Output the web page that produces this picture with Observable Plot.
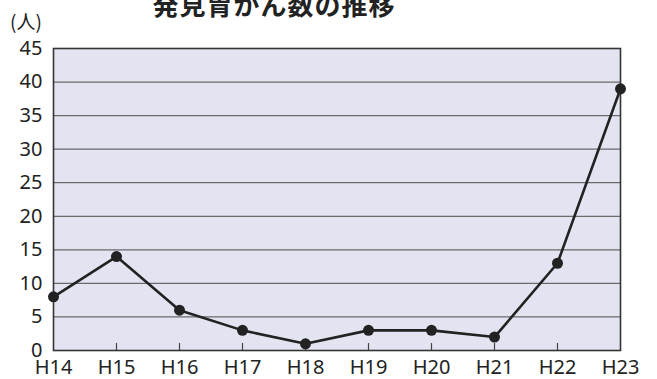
<!DOCTYPE html>
<html><head><meta charset="utf-8">
<script src="https://cdn.jsdelivr.net/npm/d3@7"></script>
<script src="https://cdn.jsdelivr.net/npm/@observablehq/plot@0.6"></script>
<style>
body{margin:0;background:#fff;}
#wrap{position:relative;width:657px;height:379px;overflow:hidden;font-family:"Noto Sans","Noto Sans CJK JP",sans-serif;}
#title{position:absolute;left:0;width:548px;text-align:center;top:-15px;font-size:26px;font-weight:bold;color:#222;font-family:"Noto Sans CJK JP",sans-serif;white-space:nowrap;letter-spacing:1px;}
#unit{position:absolute;left:10px;top:7px;font-size:19px;color:#222;font-family:"Noto Sans CJK JP",sans-serif;}
#chart{position:absolute;left:0;top:0;}
</style></head>
<body><div id="wrap"><div id="title">発見胃がん数の推移</div><div id="unit">(人)</div><div id="chart"></div></div>
<script>
const years = ["H14","H15","H16","H17","H18","H19","H20","H21","H22","H23"];
const counts = [8,14,6,3,1,3,3,2,13,39];
const yTicks = [0,5,10,15,20,25,30,35,40,45];
const data = years.map((y,i)=>({year:y,count:counts[i]}));
const W = 657, H = 379, mt = 48, mb = 29, ml = 53, mr = 37;
const chart = Plot.plot({
  width: W, height: H, marginTop: mt, marginRight: mr, marginBottom: mb, marginLeft: ml,
  style: {fontSize: "20px", fontFamily: '"Noto Sans","Noto Sans CJK JP",sans-serif', color: "#222", background: "transparent"},
  x: {type: "point", domain: years, padding: 0, label: null},
  y: {domain: [0, 45], ticks: yTicks, label: null},
  marks: [
    Plot.frame({fill: "#e3e4f2"}),
    Plot.gridY(yTicks.filter(d => d > 0 && d < 45), {stroke: "#6a6a6a", strokeOpacity: 1, strokeWidth: 1.2}),
    Plot.tickX(years.slice(1, -1), {x: d => d, stroke: "#444", strokeWidth: 1.2, insetTop: H - mt - mb - 7}),
    Plot.frame({stroke: "#333", strokeWidth: 1.6}),
    Plot.axisY({ticks: yTicks, tickSize: 0, tickPadding: 11, fontSize: 20, label: null}),
    Plot.axisX({tickSize: 0, tickPadding: 9, fontSize: 20, label: null}),
    Plot.line(data, {x: "year", y: "count", stroke: "#222", strokeWidth: 2.6}),
    Plot.dot(data, {x: "year", y: "count", r: 5.5, fill: "#222", stroke: "none"})
  ]
});
document.getElementById("chart").appendChild(chart);
</script>
</body></html>
